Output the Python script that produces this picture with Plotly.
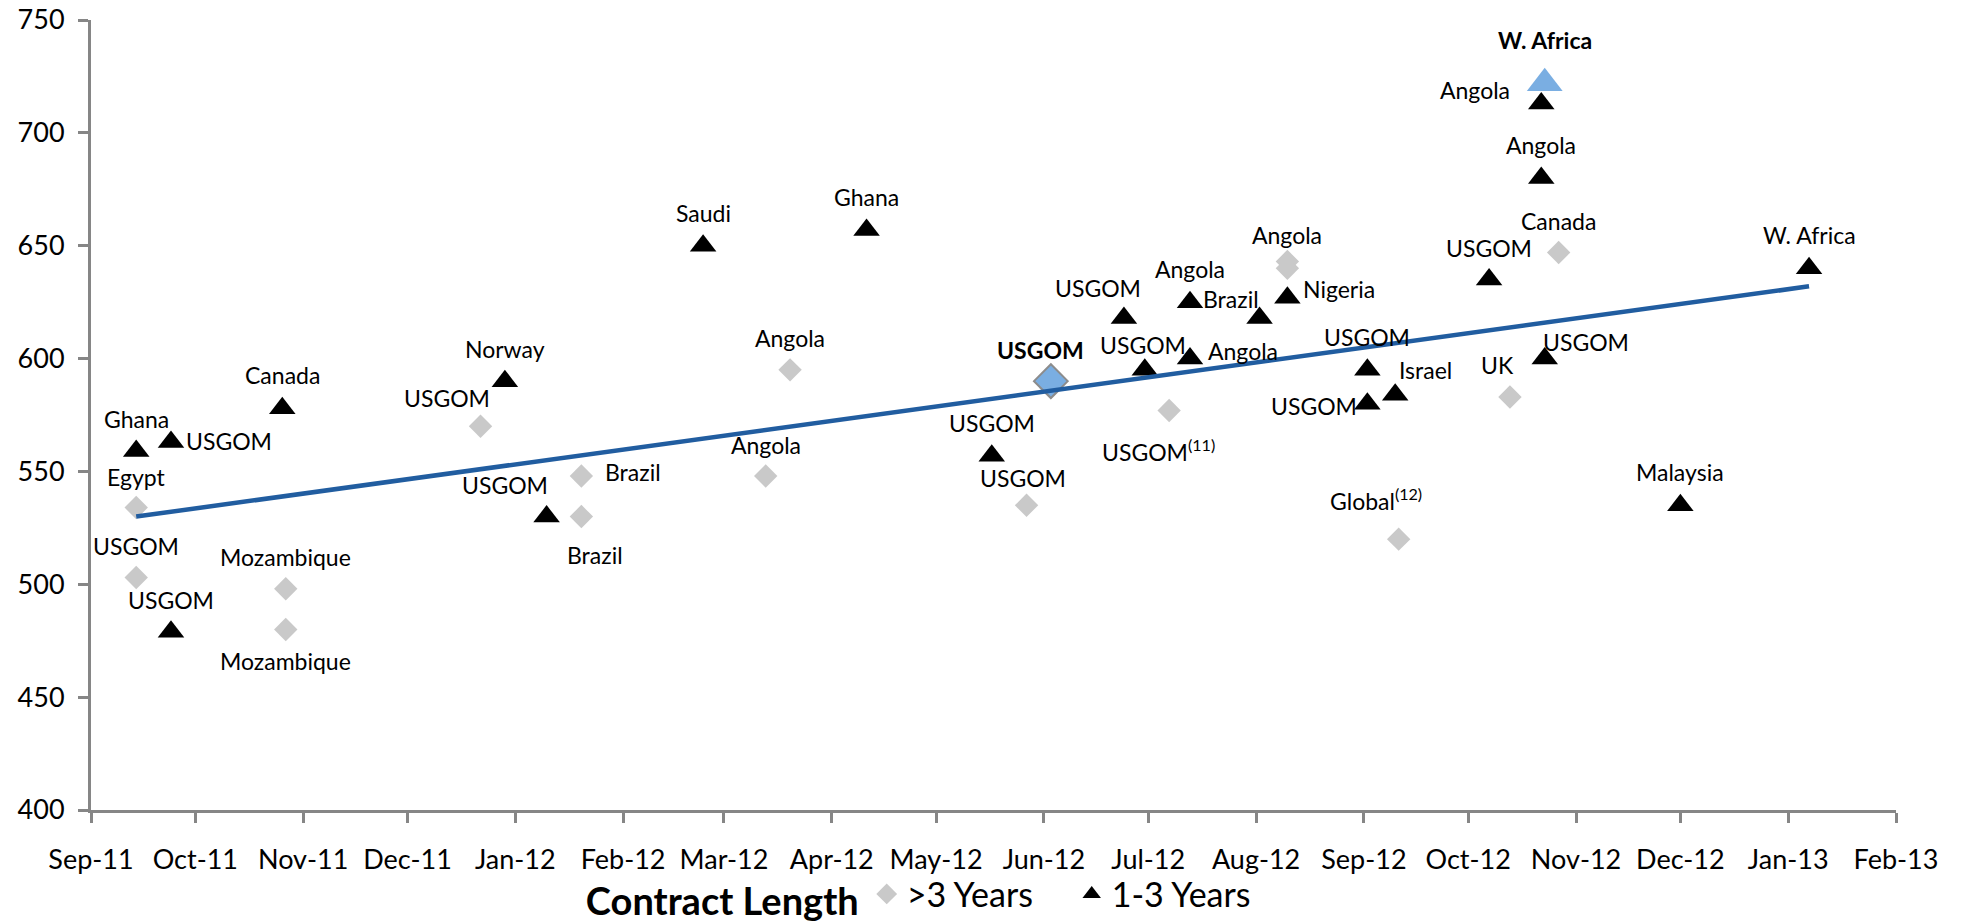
import plotly.graph_objects as go

# ---- contract fixtures: >3 year terms (grey diamonds) ----
long_dates = ["2011-09-14", "2011-09-14", "2011-10-27", "2011-10-27", "2011-12-22",
              "2012-01-20", "2012-01-20", "2012-03-13", "2012-03-20", "2012-05-27",
              "2012-06-03", "2012-07-07", "2012-08-10", "2012-08-10", "2012-09-11",
              "2012-10-13", "2012-10-27"]
long_rates = [534, 503, 498, 480, 570,
              548, 530, 548, 595, 535,
              587, 577, 643, 640, 520,
              583, 647]
long_names = ["Egypt", "USGOM", "Mozambique", "Mozambique", "USGOM",
              "Brazil", "Brazil", "Angola", "Angola", "USGOM",
              "", "USGOM<sup>(11)</sup>", "Angola", "", "Global<sup>(12)</sup>",
              "UK", "Canada"]

# ---- contract fixtures: 1-3 year terms (black triangles) ----
short_dates = ["2011-09-14", "2011-09-24", "2011-09-24", "2011-10-26", "2011-12-29",
               "2012-01-10", "2012-02-24", "2012-04-11", "2012-05-17", "2012-06-24",
               "2012-06-30", "2012-07-13", "2012-07-13", "2012-08-02", "2012-08-10",
               "2012-09-02", "2012-09-02", "2012-09-10", "2012-10-07", "2012-10-22",
               "2012-10-22", "2012-10-23", "2012-12-01", "2013-01-07"]
short_rates = [559, 563, 479, 578, 590,
               530, 650, 657, 557, 618,
               595, 625, 600, 618, 627,
               595, 580, 584, 635, 713,
               680, 600, 535, 640]
short_names = ["Ghana", "USGOM", "USGOM", "Canada", "Norway",
               "USGOM", "Saudi", "Ghana", "USGOM", "USGOM",
               "USGOM", "Angola", "Angola", "Brazil", "Nigeria",
               "USGOM", "USGOM", "Israel", "USGOM", "Angola",
               "Angola", "USGOM", "Malaysia", "W. Africa"]

# ---- highlighted fixtures ----
hl_long_date, hl_long_rate, hl_long_name = "2012-06-03", 590, "USGOM"
hl_short_date, hl_short_rate, hl_short_name = "2012-10-23", 722, "W. Africa"

# ---- linear trend across all fixtures ----
trend_dates = ["2011-09-14", "2013-01-07"]
trend_rates = [530, 632]

# label placement (pixel offsets of label centre from its marker)
long_dx = [0, 0, 0, 0, -34, 52, 14, 0, 0, -4, 0, -11, 0, 0, -23, -12, 0]
long_dy = [31, 32, 32, -32, 28, 4, -38, 31, 32, 27, 0, -40, 27, 0, 40, 32, 31]
short_dx = [0, 58, 0, 0, 0, -42, 0, 0, 0, -26, -2, 0, 53, -29, 52,
            0, -53, 30, 0, -66, 0, 41, 0, 0]
short_dy = [32, 1, 32, 33, 32, 32, 33, 33, 33, 30, 25, 33, 8, 19, 9,
            33, -2, 25, 32, 14, 33, 17, 33, 33]

FONT = "Lato, 'Open Sans', sans-serif"
AXIS_GREY = "#868686"
LABEL_SIZE = 23

fig = go.Figure()

fig.add_trace(go.Scatter(
    x=long_dates, y=long_rates, mode="markers", name=">3 Years",
    marker=dict(symbol="diamond", size=18, color="#C9C9C9", line=dict(width=0)),
))
fig.add_trace(go.Scatter(
    x=short_dates, y=short_rates, mode="markers", name="1-3 Years",
    marker=dict(symbol="triangle-up", size=23, color="#000000", line=dict(width=0)),
))
fig.add_trace(go.Scatter(
    x=[hl_long_date], y=[hl_long_rate], mode="markers", showlegend=False,
    marker=dict(symbol="diamond", size=26, color="#7AAEE2",
                line=dict(width=2, color="#8C8C8C")),
))
fig.add_trace(go.Scatter(
    x=[hl_short_date], y=[hl_short_rate], mode="markers", showlegend=False,
    marker=dict(symbol="triangle-up", size=31, color="#7AAEE2", line=dict(width=0)),
))
fig.add_trace(go.Scatter(
    x=trend_dates, y=trend_rates, mode="lines", showlegend=False,
    line=dict(color="#215DA0", width=4.5),
))

annotations = []
for d, v, t, dx, dy in zip(long_dates, long_rates, long_names, long_dx, long_dy):
    if t:
        annotations.append(dict(x=d, y=v, text=t, showarrow=False, xshift=dx, yshift=dy,
                                xanchor="center", yanchor="middle",
                                font=dict(family=FONT, size=LABEL_SIZE, color="#000000")))
for d, v, t, dx, dy in zip(short_dates, short_rates, short_names, short_dx, short_dy):
    annotations.append(dict(x=d, y=v, text=t, showarrow=False, xshift=dx, yshift=dy,
                            xanchor="center", yanchor="middle",
                            font=dict(family=FONT, size=LABEL_SIZE, color="#000000")))
annotations.append(dict(x=hl_long_date, y=hl_long_rate, text="<b>%s</b>" % hl_long_name,
                        showarrow=False, xshift=-10, yshift=31,
                        xanchor="center", yanchor="middle",
                        font=dict(family=FONT, size=LABEL_SIZE, color="#000000")))
annotations.append(dict(x=hl_short_date, y=hl_short_rate, text="<b>%s</b>" % hl_short_name,
                        showarrow=False, xshift=0, yshift=43,
                        xanchor="center", yanchor="middle",
                        font=dict(family=FONT, size=LABEL_SIZE, color="#000000")))

fig.update_layout(
    width=1961, height=923,
    margin=dict(l=91, r=65, t=20, b=113, autoexpand=False),
    paper_bgcolor="white", plot_bgcolor="white",
    font=dict(family=FONT, color="#000000"),
    annotations=annotations,
    showlegend=True,
    legend=dict(
        orientation="h", x=0.465, xanchor="center", y=-0.108, yanchor="middle",
        title=dict(text="<b>Contract Length</b>", side="left",
                   font=dict(family=FONT, size=38, color="#000000")),
        font=dict(family=FONT, size=34, color="#000000"),
        entrywidth=160, entrywidthmode="pixels",
        bgcolor="rgba(0,0,0,0)",
    ),
)

fig.update_xaxes(
    type="date", range=["2011-09-01", "2013-02-01"],
    tick0="2011-09-01", dtick="M1", tickformat="%b-%y",
    showgrid=False, zeroline=False,
    showline=True, linecolor=AXIS_GREY, linewidth=3,
    ticks="outside", ticklen=10, tickwidth=3, tickcolor=AXIS_GREY,
    ticklabelstandoff=14,
    tickfont=dict(family=FONT, size=27, color="#000000"),
)
fig.update_yaxes(
    range=[400, 750], tick0=400, dtick=50,
    showgrid=False, zeroline=False,
    showline=True, linecolor=AXIS_GREY, linewidth=3,
    ticks="outside", ticklen=10, tickwidth=3, tickcolor=AXIS_GREY,
    ticklabelstandoff=8,
    tickfont=dict(family=FONT, size=27, color="#000000"),
)

fig.write_html("out.html")
